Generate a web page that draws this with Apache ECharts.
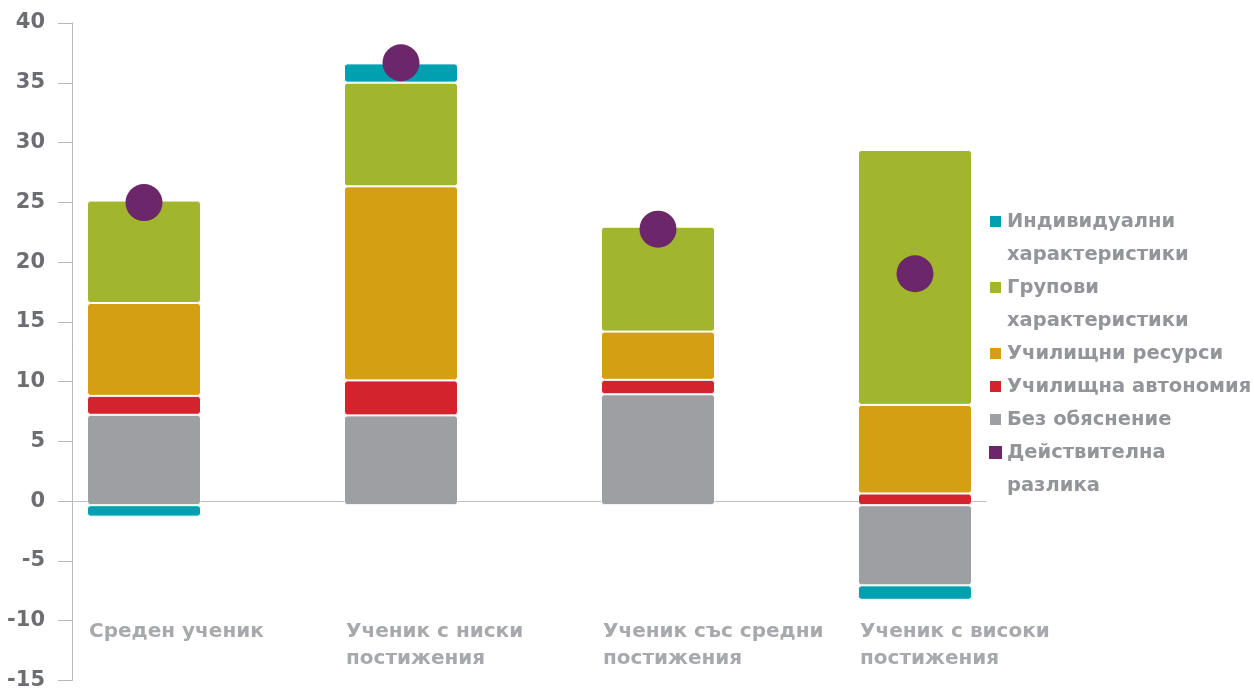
<!DOCTYPE html>
<html>
<head>
<meta charset="utf-8">
<script src="https://cdn.jsdelivr.net/npm/echarts@6/dist/echarts.min.js"></script>
<style>
  html, body { margin: 0; padding: 0; background: #fff; }
  #chart { width: 1254px; height: 691px; }
</style>
</head>
<body>
<div id="chart"></div>
<script>
const categories = ['Среден ученик', 'Ученик с ниски\nпостижения', 'Ученик със средни\nпостижения', 'Ученик с високи\nпостижения'];
const unexplained = [7.5, 7.45, 9.2, -6.65];
const autonomy = [1.57, 2.9, 1.2, 0.97];
const resources = [7.7, 16.1, 4.0, 7.35];
const groupChars = [8.5, 8.6, 8.7, 21.15];
const individual = [-0.95, 1.6, null, -1.2];
const actualGap = [25.1, 36.7, 22.9, 19.2];
const yTicks = { min: -15, max: 40, interval: 5 };

const names = {
  individual: 'Индивидуални характеристики',
  group: 'Групови характеристики',
  resources: 'Училищни ресурси',
  autonomy: 'Училищна автономия',
  unexplained: 'Без обяснение',
  actual: 'Действителна разлика'
};
const colors = {
  individual: '#00a0b0',
  group: '#a2b52f',
  resources: '#d49f12',
  autonomy: '#d3232c',
  unexplained: '#9d9fa2',
  actual: '#6b2769'
};
const legendLines = {
  'Индивидуални характеристики': 'Индивидуални',
  'cont1': 'характеристики',
  'Групови характеристики': 'Групови',
  'cont2': 'характеристики',
  'Училищни ресурси': 'Училищни ресурси',
  'Училищна автономия': 'Училищна автономия',
  'Без обяснение': 'Без обяснение',
  'Действителна разлика': 'Действителна',
  'cont3': 'разлика'
};

function barSeries(key, arr) {
  return {
    name: names[key],
    type: 'bar',
    stack: 'total',
    barWidth: 114,
    xAxisIndex: 2, yAxisIndex: 2,
    data: arr.slice(),
    itemStyle: { color: colors[key], borderColor: '#fff', borderWidth: 1, borderRadius: 3 },
    emphasis: { disabled: true }
  };
}

const chart = echarts.init(document.getElementById('chart'));
const FONT = 'DejaVu Sans';
chart.setOption({
  animation: false,
  backgroundColor: '#fff',
  grid: [
    // axes grid (y axis line at x=72, zero line to x=986)
    { left: 72, right: 268, top: 23, bottom: 5 },
    // category label grid
    { left: 89, width: 771, top: 600, bottom: 73 },
    // bars grid: category centres 257px apart
    { left: 15.5, width: 1028, top: 23, bottom: 5 }
  ],
  xAxis: [
    {
      type: 'category', gridIndex: 0, data: categories,
      axisLine: { show: true, onZero: true, lineStyle: { color: '#bcbec0', width: 1 } },
      axisTick: { show: false }, axisLabel: { show: false }, splitLine: { show: false }
    },
    {
      type: 'category', gridIndex: 1, data: categories, boundaryGap: false,
      position: 'bottom',
      axisLine: { show: false }, axisTick: { show: false },
      axisLabel: {
        interval: 0, align: 'left', margin: 0, verticalAlign: 'top',
        color: '#a7a9ac', fontFamily: FONT, fontWeight: 'bold', fontSize: 20, lineHeight: 27
      }
    },
    {
      type: 'category', gridIndex: 2, data: categories,
      axisLine: { show: false }, axisTick: { show: false }, axisLabel: { show: false }, splitLine: { show: false }
    }
  ],
  yAxis: [
    {
      type: 'value', gridIndex: 0,
      min: yTicks.min, max: yTicks.max, interval: yTicks.interval,
      axisLine: { show: true, onZero: false, lineStyle: { color: '#b7b9bb', width: 1 } },
      axisTick: { show: true, length: 14, inside: false, lineStyle: { color: '#b7b9bb' } },
      splitLine: { show: false },
      axisLabel: { margin: 27, color: '#6d6e71', fontFamily: FONT, fontWeight: 'bold', fontSize: 21 }
    },
    { type: 'value', gridIndex: 1, show: false },
    { type: 'value', gridIndex: 2, show: false, min: yTicks.min, max: yTicks.max, interval: yTicks.interval }
  ],
  legend: {
    orient: 'vertical',
    left: 988, top: 205,
    padding: 0,
    itemGap: 0,
    itemWidth: 13, itemHeight: 13,
    icon: 'rect',
    selectedMode: false,
    textStyle: { color: '#939598', fontFamily: FONT, fontWeight: 'bold', fontSize: 19.5, lineHeight: 33 },
    formatter: n => legendLines[n] || n,
    data: [
      { name: names.individual, itemStyle: { color: colors.individual } },
      { name: 'cont1', itemStyle: { color: 'rgba(0,0,0,0)', borderWidth: 0 } },
      { name: names.group, itemStyle: { color: colors.group } },
      { name: 'cont2', itemStyle: { color: 'rgba(0,0,0,0)', borderWidth: 0 } },
      { name: names.resources, itemStyle: { color: colors.resources } },
      { name: names.autonomy, itemStyle: { color: colors.autonomy } },
      { name: names.unexplained, itemStyle: { color: colors.unexplained } },
      { name: names.actual, itemStyle: { color: colors.actual } },
      { name: 'cont3', itemStyle: { color: 'rgba(0,0,0,0)', borderWidth: 0 } }
    ]
  },
  series: [
    barSeries('unexplained', unexplained),
    barSeries('autonomy', autonomy),
    barSeries('resources', resources),
    barSeries('group', groupChars),
    barSeries('individual', individual),
    {
      name: names.actual, type: 'scatter', xAxisIndex: 2, yAxisIndex: 2,
      data: actualGap.slice(), symbol: 'circle', symbolSize: 37, z: 5,
      itemStyle: { color: colors.actual, opacity: 1 },
      emphasis: { disabled: true }
    },
    { name: 'cont1', type: 'line', data: [], xAxisIndex: 1, yAxisIndex: 1, showSymbol: false, lineStyle: { opacity: 0 } },
    { name: 'cont2', type: 'line', data: [], xAxisIndex: 1, yAxisIndex: 1, showSymbol: false, lineStyle: { opacity: 0 } },
    { name: 'cont3', type: 'line', data: [], xAxisIndex: 1, yAxisIndex: 1, showSymbol: false, lineStyle: { opacity: 0 } }
  ]
});
</script>
</body>
</html>
